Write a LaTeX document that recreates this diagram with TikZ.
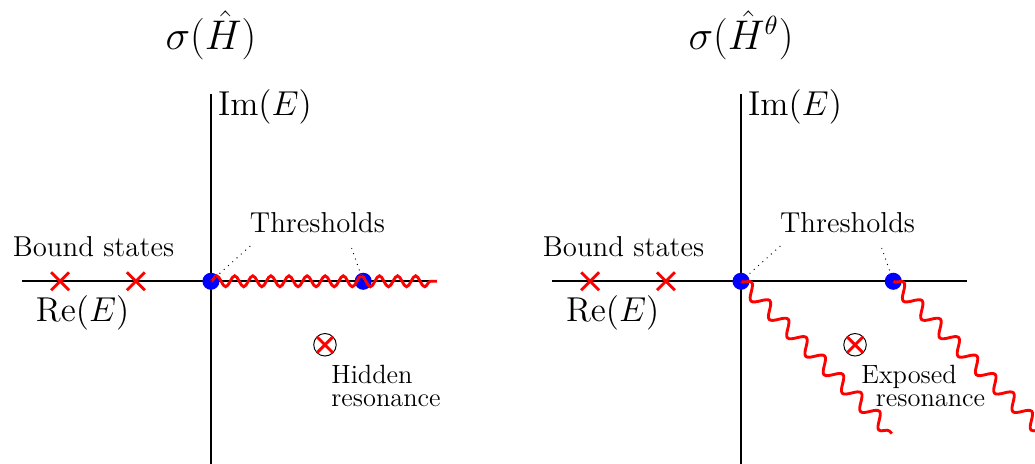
\documentclass[tikz,border=0pt]{standalone}
\usepackage{tikz}
\usetikzlibrary{positioning,calc,shapes.misc,decorations.pathmorphing}

\begin{document}
\begin{tikzpicture}[
  axis/.style={thick},
  bound/.style={cross out,draw=red,very thick,minimum size=0.22cm,inner sep=0pt},
  thr/.style={circle,fill=blue,minimum size=0.25cm,inner sep=0pt},
  resn/.style={circle,draw,minimum size=0.33cm,inner sep=0pt},
  resx/.style={bound,minimum size=0.19cm},
  cut/.style={red,very thick,decorate,decoration={snake,segment length=0.265cm,amplitude=0.08cm}},
  rotcut/.style={cut,decoration={snake,segment length=0.38cm,amplitude=0.1cm}},
  lbl/.style={font=\large},
  axlbl/.style={font=\fontsize{13.8}{16}\selectfont},
  ttl/.style={font=\fontsize{16}{19}\selectfont},
  small/.style={font=\fontsize{11}{9.6}\selectfont,align=left}
]
\clip (-3.09,-2.67) rectangle (12.07,4.12);

% left: sigma(H)
\coordinate (lw) at (-2.77,0);
\coordinate (le) at (3.31,0);
\coordinate (lb) at (0,-2.7);
\coordinate (lt) at (0,2.75);
\draw[axis] (lw) -- (le);
\draw[axis] (lb) -- (lt);
\node[ttl] (title1) at (0,3.6) {$\sigma(\hat{H})$};
\node[axlbl,anchor=west] (im1) at (-0.02,2.55) {$\mathrm{Im}(E)$};
\node[axlbl] (re1) at (-1.88,-0.46) {$\mathrm{Re}(E)$};
\node[lbl] (bs1) at (-1.72,0.50) {Bound states};
\node[bound] (b1) at (-2.21,0) {};
\node[bound] (b2) at (-1.10,0) {};
\node[thr] (t1) at (0,0) {};
\node[thr] (t2) at (2.23,0) {};
\draw[cut] (t1.center) -- (le);
\node[lbl] (thr1) at (1.56,0.86) {Thresholds};
\draw[dotted] (t1.center) -- ($(thr1.south west)+(0.14,-0.06)$);
\draw[dotted] (t2.center) -- ($(thr1.south)+(0.5,-0.1)$);
\node[resn] (res1) at (1.67,-0.93) {};
\node[resx] (res1x) at (res1) {};
\node[small,anchor=north west] (hid) at (1.64,-1.10) {Hidden\\resonance};

% right: sigma(H^theta)
\begin{scope}[xshift=7.764cm]
\coordinate (rw) at (-2.77,0);
\coordinate (re) at (3.31,0);
\coordinate (rb) at (0,-2.7);
\coordinate (rt) at (0,2.75);
\draw[axis] (rw) -- (re);
\draw[axis] (rb) -- (rt);
\node[ttl] (title2) at (0,3.6) {$\sigma(\hat{H}^\theta)$};
\node[axlbl,anchor=west] (im2) at (-0.02,2.55) {$\mathrm{Im}(E)$};
\node[axlbl] (re2) at (-1.88,-0.46) {$\mathrm{Re}(E)$};
\node[lbl] (bs2) at (-1.72,0.50) {Bound states};
\node[bound] (b3) at (-2.21,0) {};
\node[bound] (b4) at (-1.10,0) {};
\node[thr] (u1) at (0,0) {};
\node[thr] (u2) at (2.23,0) {};
\coordinate (c1) at (2.21,-2.23);
\coordinate (c2) at (4.44,-2.23);
\draw[rotcut] (u1.center) -- (c1);
\draw[rotcut] (u2.center) -- (c2);
\node[lbl] (thr2) at (1.56,0.86) {Thresholds};
\draw[dotted] (u1.center) -- ($(thr2.south west)+(0.14,-0.06)$);
\draw[dotted] (u2.center) -- ($(thr2.south)+(0.5,-0.1)$);
\node[resn] (res2) at (1.67,-0.93) {};
\node[resx] (res2x) at (res2) {};
\node[small,anchor=north west] (exp) at (1.64,-1.10) {Exposed\\\hspace{6pt}resonance};
\end{scope}
\end{tikzpicture}
\end{document}
